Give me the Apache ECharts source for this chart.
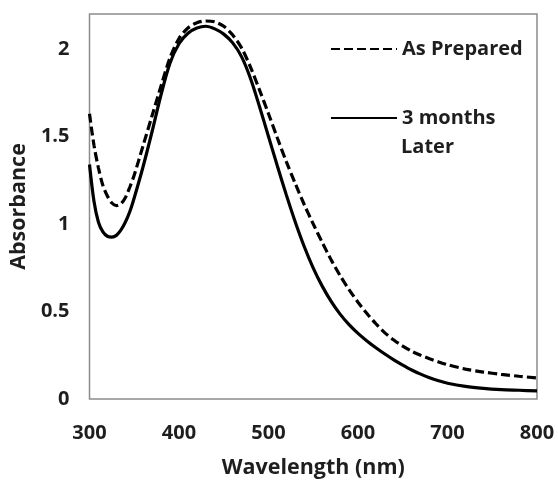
<!DOCTYPE html>
<html>
<head>
<meta charset="utf-8">
<style>
  html, body { margin: 0; padding: 0; background: #ffffff; }
  #chart { width: 558px; height: 484px; }
</style>
<script src="https://cdn.jsdelivr.net/npm/echarts@6/dist/echarts.min.js"></script>
</head>
<body>
<div id="chart"></div>
<script>
// Wavelength samples (nm)
const wavelengths = [300, 305, 310, 315, 320, 325, 330, 335, 340, 345, 350,
  360, 370, 380, 390, 400, 410, 420, 430, 440, 450, 460, 470, 480, 490, 500,
  510, 520, 530, 540, 550, 560, 570, 580, 590, 600, 610, 620, 630, 640, 650,
  660, 670, 680, 690, 700, 720, 740, 760, 780, 800];

// Absorbance of the freshly prepared sample
const asPrepared = [1.63, 1.45, 1.32, 1.22, 1.16, 1.12, 1.105, 1.115, 1.15, 1.21, 1.28,
  1.45, 1.62, 1.79, 1.95, 2.06, 2.12, 2.15, 2.16, 2.155, 2.13, 2.08, 2.005, 1.895, 1.765, 1.63,
  1.49, 1.355, 1.23, 1.11, 1.0, 0.895, 0.795, 0.705, 0.625, 0.553, 0.488, 0.43, 0.378, 0.337, 0.302,
  0.273, 0.25, 0.23, 0.212, 0.196, 0.171, 0.154, 0.141, 0.13, 0.12];

// Absorbance of the same sample three months later
const threeMonthsLater = [1.34, 1.13, 1.01, 0.955, 0.93, 0.925, 0.935, 0.965, 1.01, 1.07, 1.15,
  1.33, 1.53, 1.74, 1.92, 2.03, 2.09, 2.12, 2.13, 2.115, 2.085, 2.035, 1.955, 1.83, 1.67, 1.50,
  1.33, 1.165, 1.01, 0.87, 0.748, 0.645, 0.558, 0.485, 0.425, 0.375, 0.332, 0.293, 0.257, 0.224, 0.194,
  0.166, 0.142, 0.121, 0.104, 0.09, 0.072, 0.061, 0.054, 0.05, 0.046];

const seriesNames = ['As Prepared', '3 months'];
const xTitle = 'Wavelength (nm)';
const yTitle = 'Absorbance';

const FONT = '"Open Sans"';
const TEXT = '#1e1e1e';

const pairs = (ys) => wavelengths.map((w, i) => [w, ys[i]]);

const chart = echarts.init(document.getElementById('chart'), null, { renderer: 'canvas' });

const legendText = { fontFamily: FONT, fontWeight: 'bold', fontSize: 20, color: TEXT };
const titleText = { fontFamily: FONT, fontWeight: 'bold', fontSize: 21.5, color: TEXT };
const tickText = { fontFamily: FONT, fontWeight: 'bold', fontSize: 20, color: TEXT };

chart.setOption({
  animation: false,
  backgroundColor: '#ffffff',
  grid: {
    left: 89.5, right: 21, top: 14, bottom: 76,
    show: true, borderColor: '#8c8c8c', borderWidth: 1.5, backgroundColor: 'transparent'
  },
  legend: [
    {
      data: [seriesNames[0]],
      left: 325, top: 34,
      itemWidth: 66, itemHeight: 14,
      itemStyle: { opacity: 0 },
      textStyle: legendText,
      selectedMode: false
    },
    {
      data: [seriesNames[1]],
      left: 325, top: 103,
      itemWidth: 66, itemHeight: 14,
      itemStyle: { opacity: 0 },
      textStyle: legendText,
      selectedMode: false
    }
  ],
  graphic: [{
    type: 'text',
    left: 401, top: 137,
    style: { text: 'Later', font: 'bold 20px ' + FONT, fill: TEXT }
  }],
  xAxis: {
    type: 'value', min: 300, max: 800, interval: 100,
    name: xTitle, nameLocation: 'middle', nameGap: 58,
    nameTextStyle: titleText,
    axisLine: { show: false }, axisTick: { show: false }, splitLine: { show: false },
    axisLabel: Object.assign({ margin: 24 }, tickText)
  },
  yAxis: {
    type: 'value', min: 0, max: 2.2, interval: 0.5,
    name: yTitle, nameLocation: 'middle', nameGap: 47,
    nameTextStyle: titleText,
    axisLine: { show: false }, axisTick: { show: false }, splitLine: { show: false },
    axisLabel: Object.assign({
      margin: 20,
      formatter: (v) => (v > 2.1 ? '' : String(v))
    }, tickText)
  },
  series: [
    {
      name: seriesNames[0], type: 'line', data: pairs(asPrepared),
      smooth: 0.3, symbol: 'none',
      lineStyle: { color: '#000000', width: 3.2, type: [9, 4] },
      itemStyle: { color: '#000000' }
    },
    {
      name: seriesNames[1], type: 'line', data: pairs(threeMonthsLater),
      smooth: 0.3, symbol: 'none',
      lineStyle: { color: '#000000', width: 3.2, type: 'solid' },
      itemStyle: { color: '#000000' }
    }
  ]
});
</script>
</body>
</html>
